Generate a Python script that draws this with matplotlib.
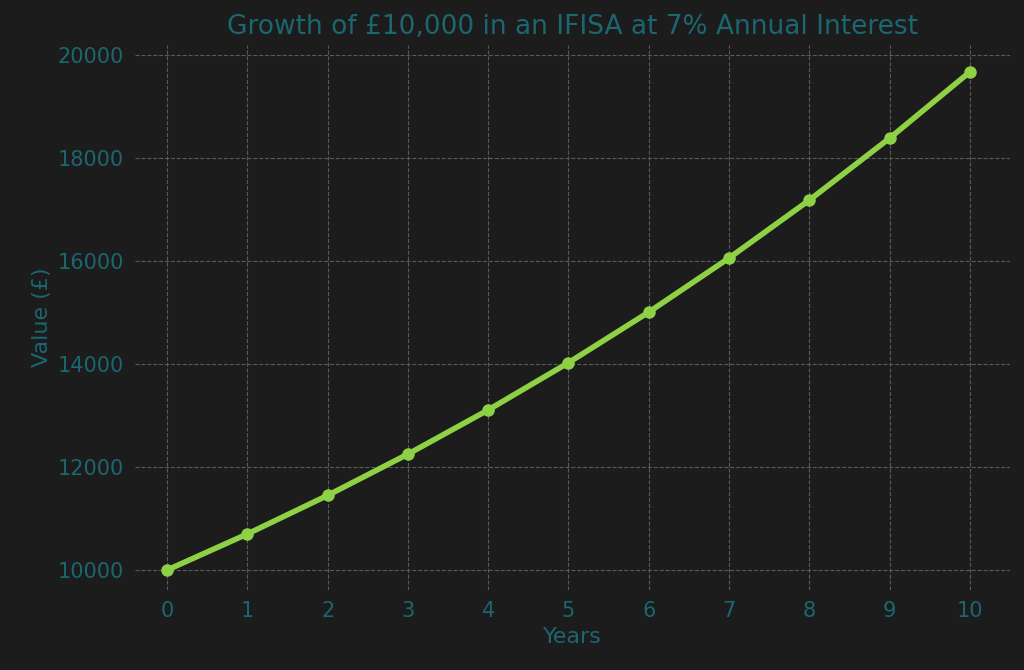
import matplotlib
matplotlib.use("Agg")
import matplotlib.pyplot as plt

years = [0, 1, 2, 3, 4, 5, 6, 7, 8, 9, 10]
values = [10000, 10700, 11449, 12250.43, 13107.96, 14025.52,
          15007.30, 16057.81, 17181.86, 18384.59, 19671.51]
yticks = [10000, 12000, 14000, 16000, 18000, 20000]

BG = "#1c1c1c"
TXT = "#1b6670"

fig = plt.figure(figsize=(10.24, 6.7), dpi=100, facecolor=BG)
ax = fig.add_axes([135 / 1024, 80 / 670, 875 / 1024, 545 / 670], facecolor=BG)
ax.plot(years, values, color="#8ed144", lw=4, marker="o", markersize=8)
ax.set_xlim(-0.4, 10.5)
ax.set_ylim(9612, 20194)
ax.set_xticks(years)
ax.set_yticks(yticks)
ax.grid(True, color="#5a5a5a", linestyle="--", linewidth=0.8)
for s in ax.spines.values():
    s.set_visible(False)
ax.tick_params(colors=TXT, labelsize=15, length=0, pad=8)
ax.set_xlabel("Years", color=TXT, fontsize=16)
ax.set_ylabel("Value (£)", color=TXT, fontsize=16)
ax.set_title("Growth of £10,000 in an IFISA at 7% Annual Interest", color=TXT, fontsize=19, pad=8)
fig.savefig("out.png", dpi=100, facecolor=BG)
